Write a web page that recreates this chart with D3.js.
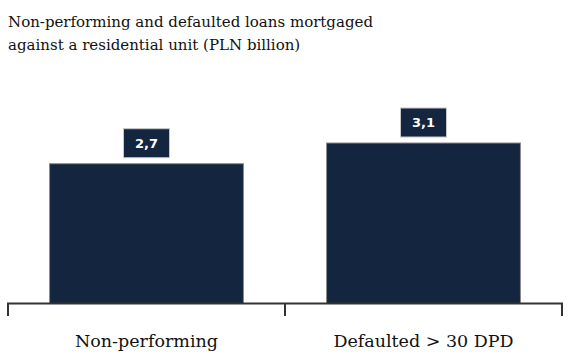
<!DOCTYPE html>
<html>
<head>
<meta charset="utf-8">
<script src="https://cdn.jsdelivr.net/npm/d3@7"></script>
<style>
  html, body { margin: 0; padding: 0; background: #fff; }
  svg { display: block; }
</style>
</head>
<body>
<svg id="chart" width="569" height="352"></svg>
<script>
const titleLines = ["Non-performing and defaulted loans mortgaged", "against a residential unit (PLN billion)"];
const categories = ["Non-performing", "Defaulted > 30 DPD"];
const values = [2.7, 3.1];
const valueLabels = ["2,7", "3,1"];

const svg = d3.select("#chart");
const axisY = 303.5;

const x = d3.scaleBand().domain(categories).range([8, 562]).paddingInner(0.3).paddingOuter(0.15);
const y = d3.scaleLinear().domain([0, 3.1]).range([axisY, 143]);

const serif = "'DejaVu Serif', serif";

// title
svg.append("g").selectAll("text").data(titleLines).join("text")
  .attr("x", 8).attr("y", (d, i) => 27 + i * 23)
  .attr("font-family", serif).attr("font-size", 15).attr("fill", "#111")
  .text(d => d);

// bars
svg.append("g").selectAll("rect").data(values).join("rect")
  .attr("x", (d, i) => x(categories[i]))
  .attr("y", d => y(d))
  .attr("width", x.bandwidth())
  .attr("height", d => axisY - y(d))
  .attr("fill", "#13253f")
  .attr("stroke", "#8a8a8a").attr("stroke-width", 1);

// value label boxes
const boxW = 46, boxH = 29, gap = 6;
const lab = svg.append("g").selectAll("g").data(values).join("g")
  .attr("transform", (d, i) => `translate(${x(categories[i]) + x.bandwidth() / 2},${y(d) - gap - boxH / 2})`);
lab.append("rect")
  .attr("x", -boxW / 2).attr("y", -boxH / 2).attr("width", boxW).attr("height", boxH)
  .attr("fill", "#13253f").attr("stroke", "#c8c8c8").attr("stroke-width", 1);
lab.append("text")
  .attr("text-anchor", "middle").attr("dy", "0.36em")
  .attr("font-family", "'DejaVu Sans', sans-serif").attr("font-weight", "bold").attr("font-size", 13)
  .attr("fill", "#fff")
  .text((d, i) => valueLabels[i]);

// axis line with band-boundary ticks
const r = x.range();
const bounds = [r[0], (x(categories[0]) + x.bandwidth() + x(categories[1])) / 2, r[1]];
const ax = svg.append("g").attr("stroke", "#333").attr("stroke-width", 2).attr("fill", "none");
ax.append("line").attr("x1", r[0] - 1).attr("x2", r[1] + 1).attr("y1", axisY).attr("y2", axisY);
ax.selectAll("line.tick").data(bounds).join("line").attr("class", "tick")
  .attr("x1", d => d).attr("x2", d => d).attr("y1", axisY).attr("y2", 316);

// category labels
svg.append("g").selectAll("text").data(categories).join("text")
  .attr("x", d => x(d) + x.bandwidth() / 2).attr("y", 347)
  .attr("text-anchor", "middle")
  .attr("font-family", serif).attr("font-size", 17.5).attr("fill", "#111")
  .text(d => d);
</script>
</body>
</html>
